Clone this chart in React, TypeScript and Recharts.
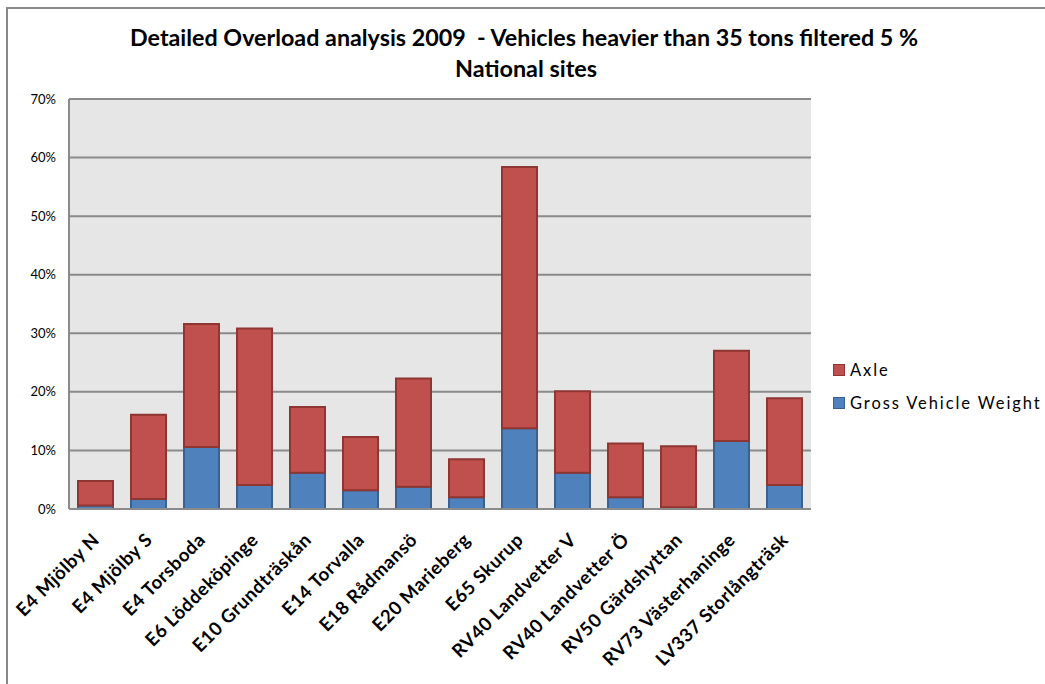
import { BarChart, Bar, XAxis, YAxis, CartesianGrid, Legend } from 'recharts';

const sites = [
  'E4 Mjölby N',
  'E4 Mjölby S',
  'E4 Torsboda',
  'E6 Löddeköpinge',
  'E10 Grundträskån',
  'E14 Torvalla',
  'E18 Rådmansö',
  'E20 Marieberg',
  'E65 Skurup',
  'RV40 Landvetter V',
  'RV40 Landvetter Ö',
  'RV50 Gärdshyttan',
  'RV73 Västerhaninge',
  'LV337 Storlångträsk',
];

// share of vehicles (%) overloaded on gross weight
const grossWeight = [0.6, 1.7, 10.6, 4.1, 6.2, 3.2, 3.8, 2.0, 13.8, 6.2, 2.0, 0.3, 11.6, 4.1];
// additional share overloaded on axle load (stacked on top)
const axle = [4.2, 14.4, 21.0, 26.7, 11.2, 9.1, 18.5, 6.5, 44.6, 13.9, 9.2, 10.4, 15.4, 14.8];

const yTicks = [0, 10, 20, 30, 40, 50, 60, 70];

const titleLine1 = 'Detailed Overload analysis 2009  - Vehicles heavier than 35 tons filtered 5 %';
const titleLine2 = 'National sites';

const data = sites.map((site, i) => ({
  site,
  gross: grossWeight[i],
  axle: axle[i],
}));

const SiteTick = ({ x, y, payload }: any) => (
  <text
    x={x + 5}
    y={y + 24}
    transform={`rotate(-45, ${x + 5}, ${y + 24})`}
    textAnchor="end"
    fontFamily="Lato, sans-serif"
    fontWeight="bold"
    fontSize={18.5}
    letterSpacing={0.6}
    fill="#000"
  >
    {payload.value}
  </text>
);

const LegendBox = ({ payload }: any) => {
  const items = payload || [];
  return (
    <div>
      {items.map((item: any) => (
        <div key={item.value} style={{ display: 'flex', alignItems: 'center', height: 33 }}>
          <div
            style={{
              width: 10,
              height: 10,
              background: item.color,
              border: `1px solid ${item.payload.stroke}`,
              marginRight: 5,
            }}
          />
          <span
            style={{
              fontFamily: 'Lato, sans-serif',
              fontSize: 16.5,
              letterSpacing: 1.9,
              color: '#000',
            }}
          >
            {item.value}
          </span>
        </div>
      ))}
    </div>
  );
};

export default function App() {
  return (
    <div style={{ position: 'absolute', left: 0, top: 0, width: 1045, height: 684, background: '#fff', overflow: 'hidden' }}>
      {/* chart frame */}
      <div
        style={{
          position: 'absolute',
          left: 6,
          top: 7,
          width: 1100,
          height: 720,
          border: '2px solid #8a8a8a',
        }}
      />
      <svg width={1045} height={90} style={{ position: 'absolute', left: 0, top: 0 }}>
        <text
          x={524}
          y={46}
          textAnchor="middle"
          fontFamily="Lato, sans-serif"
          fontWeight="bold"
          fontSize={22}
          textLength={788}
          lengthAdjust="spacingAndGlyphs"
          xmlSpace="preserve"
          style={{ whiteSpace: 'pre' }}
          fill="#000"
        >
          {titleLine1}
        </text>
        <text
          x={526}
          y={77}
          textAnchor="middle"
          fontFamily="Lato, sans-serif"
          fontWeight="bold"
          fontSize={22}
          textLength={142}
          lengthAdjust="spacingAndGlyphs"
          fill="#000"
        >
          {titleLine2}
        </text>
      </svg>
      <div style={{ position: 'absolute', left: 0, top: 0 }}>
        <BarChart
          width={1045}
          height={684}
          data={data}
          margin={{ top: 99, right: 234, left: 0, bottom: 0 }}
          barSize={35}
        >
          <CartesianGrid vertical={false} fill="#e6e6e6" stroke="#8a8a8a" strokeWidth={2} />
          <XAxis
            dataKey="site"
            interval={0}
            height={175}
            tick={<SiteTick />}
            tickLine={false}
            axisLine={{ stroke: '#8a8a8a', strokeWidth: 2 }}
          />
          <YAxis
            width={69}
            domain={[0, 70]}
            ticks={yTicks}
            tickFormatter={(v: number) => `${v}%`}
            tickLine={false}
            tickSize={6}
            tickMargin={7}
            axisLine={{ stroke: '#8a8a8a', strokeWidth: 2 }}
            tick={{ fontFamily: 'Lato, sans-serif', fontSize: 13, fill: '#000' }}
          />
          <Legend
            layout="vertical"
            align="center"
            verticalAlign="middle"
            content={<LegendBox />}
            wrapperStyle={{ position: 'absolute', left: 833, top: 353, width: 210 }}
          />
          <Bar
            dataKey="gross"
            name="Gross Vehicle Weight"
            stackId="a"
            fill="#4f81bd"
            stroke="#3a6190"
            strokeWidth={2}
            isAnimationActive={false}
          />
          <Bar
            dataKey="axle"
            name="Axle"
            stackId="a"
            fill="#c0504d"
            stroke="#8f3532"
            strokeWidth={2}
            isAnimationActive={false}
          />
        </BarChart>
      </div>
    </div>
  );
}
